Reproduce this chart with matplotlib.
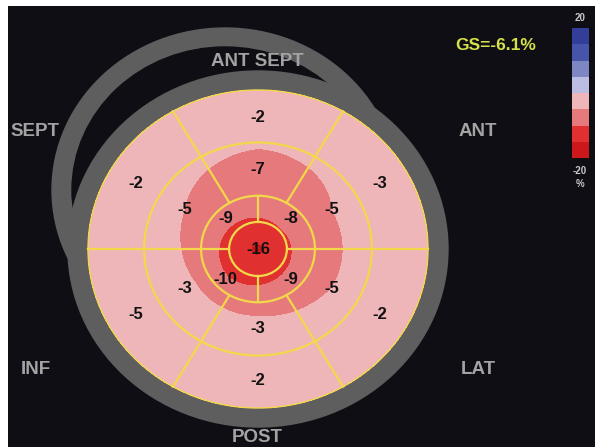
import numpy as np
import matplotlib.pyplot as plt
from matplotlib.patches import Ellipse
from matplotlib.colors import ListedColormap, BoundaryNorm
from matplotlib.colorbar import ColorbarBase

# regional longitudinal strain (%), 17-segment model
apex = -16
apical = [-8, -9, -10, -9]            # centred at 45, 135, 225, 315 deg
mid = [-5, -7, -5, -3, -3, -5]        # centred at 30, 90, ... 330 deg
basal = [-3, -2, -2, -5, -2, -2]
global_strain = -6.1

wall_labels = ['ANT SEPT', 'ANT', 'LAT', 'POST', 'INF', 'SEPT']
strain_levels = [-20, -15, -10, -5, 0, 5, 10, 15, 20]
strain_colors = ['#cc181b', '#e0302f', '#e6797b', '#efb6ba',
                 '#bcbde2', '#7f86c4', '#4654aa', '#323e98']

BG = '#0e0e14'
RING = '#5e5e5e'
LINE = '#f2d84a'
cmap = ListedColormap(strain_colors)
norm = BoundaryNorm(strain_levels, cmap.N)

# bullseye geometry (pixel units)
CX, CY, RX, RY = 258, 249, 170, 159
radii = [0.17, 0.335, 0.67, 1.0]

fig = plt.figure(figsize=(5.95, 4.47), dpi=100, facecolor='white')
ax = fig.add_axes([8 / 595, 0, 587 / 595, 441 / 447])
ax.set_xlim(8, 595)
ax.set_ylim(447, 6)
ax.set_facecolor(BG)
ax.axis('off')
ax.add_patch(plt.Rectangle((8, 6), 587, 441, color=BG, zorder=0))


def xy(r, th):
    t = np.deg2rad(th)
    return CX + RX * r * np.cos(t), CY - RY * r * np.sin(t)


# grey outline rings (offset ghost ring behind the main one)
ax.add_patch(Ellipse((225, 190), 346, 324, color=RING, zorder=1))
ax.add_patch(Ellipse((225, 190), 306, 286, color=BG, zorder=1))
ax.add_patch(Ellipse((CX, CY), 380, 356, color=RING, zorder=2))

# strain map: linear in radius between ring centres, periodic in angle
def ring_value(vals, start, th):
    n = len(vals)
    ang = start + 360 / n * np.arange(n)
    return np.interp(th, ang, vals, period=360)


r = np.linspace(0, 1, 200)
th = np.linspace(0, 360, 361)
R, TH = np.meshgrid(r, th)
knots_r = [0.0, 0.25, 0.5, 0.83, 1.0]
knots_v = [np.full_like(TH, apex), ring_value(apical, 45, TH),
           ring_value(mid, 30, TH), ring_value(basal, 30, TH),
           ring_value(basal, 30, TH)]
Z = np.empty_like(R)
for i in range(len(knots_r) - 1):
    m = (R >= knots_r[i]) & (R <= knots_r[i + 1])
    f = (R - knots_r[i]) / (knots_r[i + 1] - knots_r[i])
    Z[m] = (knots_v[i] * (1 - f) + knots_v[i + 1] * f)[m]
X, Y = xy(R, TH)
ax.contourf(X, Y, Z, levels=strain_levels, cmap=cmap, norm=norm, zorder=3)

# segment borders
for rr in radii:
    ax.add_patch(Ellipse((CX, CY), 2 * RX * rr, 2 * RY * rr, fill=False,
                         ec=LINE, lw=1.6 if rr < 1 else 1.0, zorder=4))
for a in [0, 90, 180, 270]:
    x, y = xy(np.array(radii[:2]), a)
    ax.plot(x, y, color=LINE, lw=1.6, zorder=4)
for a in range(0, 360, 60):
    x, y = xy(np.array([radii[1], radii[3]]), a)
    ax.plot(x, y, color=LINE, lw=1.6, zorder=4)

# segment values
txt = dict(ha='center', va='center', fontsize=12, fontweight='bold',
           family='Liberation Sans', color='#111111', zorder=5)
ax.text(CX, CY, str(apex), **txt)
for i, v in enumerate(apical):
    ax.text(*xy(0.27, 45 + 90 * i), str(v), **txt)
for i, v in enumerate(mid):
    ax.text(*xy(0.5, 30 + 60 * i), str(v), **txt)
for i, v in enumerate(basal):
    ax.text(*xy(0.83, 30 + 60 * i), str(v), **txt)

# wall names
lab = dict(ha='center', va='center', fontsize=13.5, fontweight='bold',
           family='Liberation Sans', color='#a3a3a3', zorder=5)
wall_pos = [(257, 61), (478, 131), (478, 369), (257, 438), (36, 369), (35, 131)]
for name, (x, y) in zip(wall_labels, wall_pos):
    ax.text(x, y, name, **lab)

ax.text(496, 45, f'GS={global_strain}%', ha='center', va='center',
        fontsize=12.5, fontweight='bold', family='Liberation Sans',
        color='#d6e04a', zorder=5)

# colour scale
cax = fig.add_axes([572 / 595, 1 - 158 / 447, 17 / 595, 130 / 447])
cb = ColorbarBase(cax, cmap=cmap, norm=norm, orientation='vertical')
cb.set_ticks([])
cb.outline.set_visible(False)
small = dict(ha='center', va='center', fontsize=7, fontweight='bold',
             family='Liberation Sans', color='#c8c8c8')
ax.text(580, 18, str(strain_levels[-1]), **small)
ax.text(580, 171, str(strain_levels[0]), **small)
ax.text(580, 184, '%', **small)

fig.savefig('out.png', dpi=100, facecolor=fig.get_facecolor())
